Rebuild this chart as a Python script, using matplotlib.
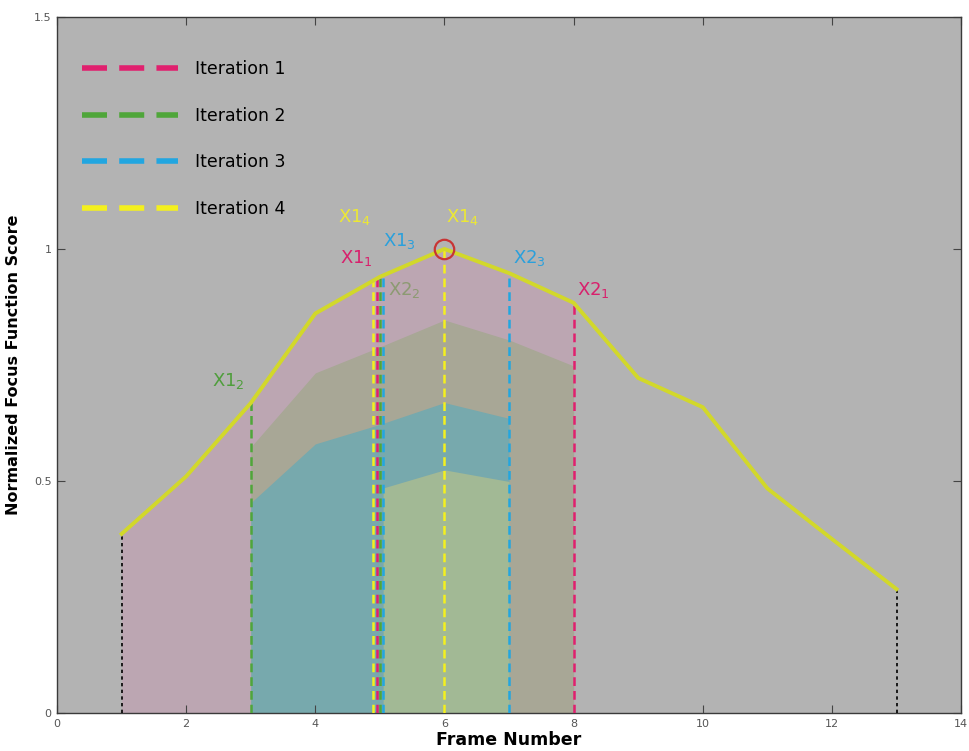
import numpy as np
import matplotlib.pyplot as plt
from matplotlib.lines import Line2D

# focus score per frame
frames = [1, 2, 3, 4, 5, 6, 7, 8, 9, 10, 11, 12, 13]
score = [0.386, 0.51, 0.668, 0.861, 0.94, 1.0, 0.948, 0.884, 0.722, 0.659, 0.484, 0.375, 0.267]

# search bands for each iteration
band1_x = [1, 2, 3, 4, 5, 6, 7, 8]
band2_x = [3, 4, 5, 6, 7, 8]
band2_top = [0.573, 0.733, 0.789, 0.847, 0.804, 0.748]
band3_x = [3, 4, 5, 6, 7]
band3_top = [0.453, 0.58, 0.622, 0.669, 0.635]
band4_x = [5.05, 6, 7]
band4_top = [0.485, 0.524, 0.499]

# bracket positions
iter_names = ["Iteration 1", "Iteration 2", "Iteration 3", "Iteration 4"]
iter_colors = ["#e0206e", "#4fa63a", "#22a6e0", "#f4f01e"]
bracket_x = [[4.95, 8], [3, 5.0], [5.05, 7], [4.9, 6]]
bracket_labels = [
    ["X1$_1$", "X2$_1$"],
    ["X1$_2$", "X2$_2$"],
    ["X1$_3$", "X2$_3$"],
    ["X1$_4$", "X1$_4$"],
]
label_pos = [
    [(4.63, 0.98), (8.3, 0.912)],
    [(2.66, 0.716), (5.38, 0.912)],
    [(5.31, 1.017), (7.31, 0.98)],
    [(4.61, 1.069), (6.28, 1.069)],
]
label_colors = [
    ["#d8206c", "#d8206c"],
    ["#4f9e3c", "#8c9a72"],
    ["#2aa0dc", "#2aa0dc"],
    ["#ece834", "#ece834"],
]

fig = plt.figure(figsize=(9.7, 7.51), dpi=100)
ax = fig.add_axes([0.0588, 0.0506, 0.932, 0.9268])
ax.set_facecolor("#b3b3b3")

curve_y = np.array(score)
pink_top = curve_y[:len(band1_x)]
ax.fill_between(band1_x, 0, pink_top, color="#bca6b2", lw=0)
ax.fill_between(band2_x, 0, band2_top, color="#a8a796", lw=0)
ax.fill_between(band3_x, 0, band3_top, color="#77a9ad", lw=0)
ax.fill_between(band4_x, 0, band4_top, color="#a2b995", lw=0)

# end markers of the frame range
for fx in [frames[0], frames[-1]]:
    ax.vlines(fx, 0, np.interp(fx, frames, score), colors="black",
              linestyles=(0, (2, 2)), lw=1.2, zorder=3)

# iteration brackets
for i in range(4):
    for j in range(2):
        bx = bracket_x[i][j]
        top = np.interp(bx, frames, score)
        ax.vlines(bx, 0, top, colors=iter_colors[i],
                  linestyles=(0, (3.5, 2)), lw=1.8, zorder=3)
        tx, ty = label_pos[i][j]
        ax.text(tx, ty, bracket_labels[i][j], color=label_colors[i][j],
                fontsize=13, ha="center", va="center")

ax.plot(frames, score, color="#d2d82a", lw=2.8, zorder=4)
ax.plot([6], [1.0], marker="o", ms=14, mfc="none", mec="#c83434", mew=1.6, zorder=5)

handles = [Line2D([0], [0], color=c, lw=4, linestyle=(0, (4.5, 2.2))) for c in iter_colors]
ax.legend(handles, iter_names, loc="upper left", frameon=False, fontsize=12.5,
          handlelength=5.5, handletextpad=1.0, labelspacing=1.65,
          bbox_to_anchor=(0.02, 0.948), borderaxespad=0)

ax.set_xlim(0, 14)
ax.set_ylim(0, 1.5)
ax.set_xticks([0, 2, 4, 6, 8, 10, 12, 14])
ax.set_yticks([0, 0.5, 1, 1.5])
ax.set_yticklabels(["0", "0.5", "1", "1.5"])
ax.tick_params(direction="in", top=True, right=True, length=6, width=0.8,
               labelsize=8, labelcolor="#555555", colors="#444444", pad=4)
for s in ax.spines.values():
    s.set_color("#3a3a3a")
    s.set_linewidth(1.0)

ax.set_xlabel("Frame Number", fontsize=12.5, fontweight="bold", labelpad=2)
ax.set_ylabel("Normalized Focus Function Score", fontsize=11.5, fontweight="bold")
ax.yaxis.set_label_coords(-0.04, 0.5)

fig.savefig("out.png", dpi=100)
